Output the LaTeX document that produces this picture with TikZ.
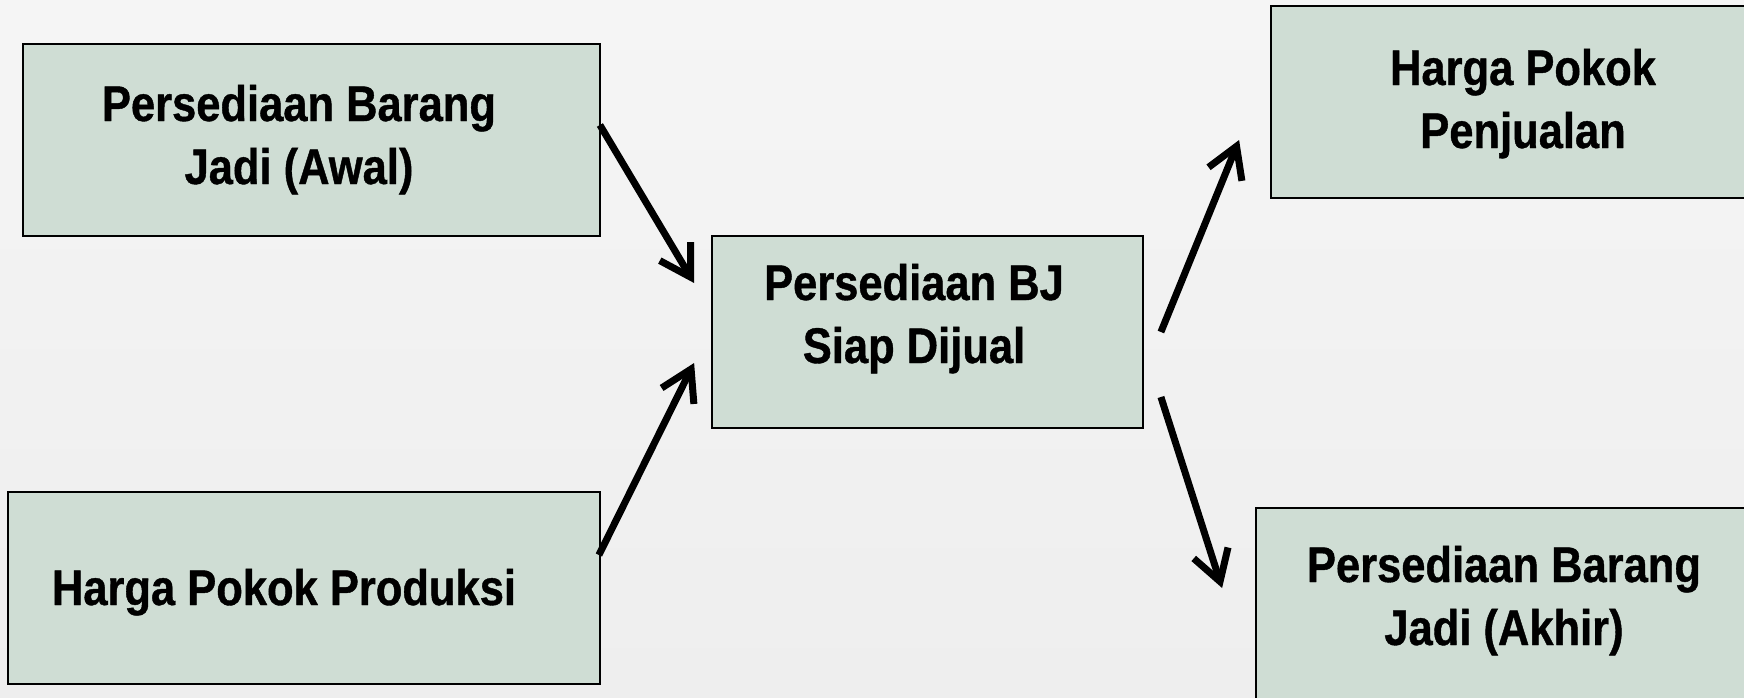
\documentclass[tikz,border=0pt]{standalone}
\usepackage{fontspec}
\usetikzlibrary{arrows.meta,calc}
\newfontfamily\lblfont[FakeStretch=0.87,FakeBold=0.8]{Liberation Sans Bold}
\definecolor{bgtop}{RGB}{245,245,245}
\definecolor{bgbot}{RGB}{238,238,238}
\definecolor{boxfill}{RGB}{207,221,212}
\tikzset{
  boxnode/.style={draw=black, line width=1.8pt, fill=boxfill, inner sep=0pt, minimum height=192pt},
  lbl/.style={anchor=base, inner sep=0pt, font=\lblfont\fontsize{50}{63}\selectfont},
  flow/.style={line width=7pt, -{Straight Barb[length=30pt,width=36pt]}}
}
\newcommand{\twolines}[2]{\setlength{\tabcolsep}{0pt}\begin{tabular}[t]{c}#1\\#2\end{tabular}}
\begin{document}
\begin{tikzpicture}[x=1pt,y=-1pt]
\useasboundingbox (0,0) rectangle (1744,697);
\clip (0,0) rectangle (1744,697);
\shade[top color=bgtop, bottom color=bgbot] (0,0) rectangle (1744,697);
% boxes
\node[boxnode, minimum width=577pt] (b1) at (311.5,140) {};
\node[boxnode, minimum width=592pt] (b2) at (304,588) {};
\node[boxnode, minimum width=431pt] (b3) at (927.5,332) {};
\node[boxnode, minimum width=489pt] (b4) at (1515.5,102) {};
\node[boxnode, minimum width=504pt, minimum height=204pt] (b5) at (1508,610) {};
% labels
\node[lbl] (t1) at (299,121) {\twolines{Persediaan Barang}{Jadi (Awal)}};
\node[lbl] (t2) at (284,605) {Harga Pokok Produksi};
\node[lbl] (t3) at (914,300) {\twolines{Persediaan BJ}{Siap Dijual}};
\node[lbl] (t4) at (1523,85) {\twolines{Harga Pokok}{Penjualan}};
\node[lbl] (t5) at (1504,582) {\twolines{Persediaan Barang}{Jadi (Akhir)}};
% arrows
\draw[flow] ($(b1.east)+(-1,-15)$) -- ($(b3.west)+(-17,-49)$);
\draw[flow] ($(b2.east)+(-2,-33)$) -- ($(b3.west)+(-17,31)$);
\draw[flow] ($(b3.east)+(17,0)$) -- ($(b4.west)+(-31,38)$);
\draw[flow] ($(b3.east)+(17,65)$) -- ($(b5.west)+(-33,-22)$);
\end{tikzpicture}
\end{document}
